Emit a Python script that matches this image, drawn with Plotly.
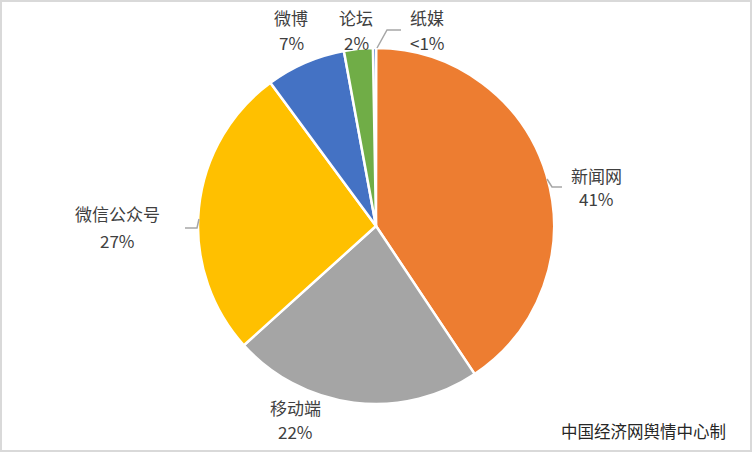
import plotly.graph_objects as go

# ---- data ----
categories = ["纸媒", "新闻网", "移动端", "微信公众号", "微博", "论坛"]
values = [0.3, 40.5, 22.6, 26.5, 7.2, 2.6]
pct_labels = ["<1%", "41%", "22%", "27%", "7%", "2%"]
colors = ["#4472C4", "#ED7D31", "#A5A5A5", "#FFC000", "#4472C4", "#70AD47"]
source_note = "中国经济网舆情中心制"

# ---- layout helpers (pixels) ----
W, H = 752, 452
CX, CY, R = 376, 226, 178
# label positions (px): x centre, y of category line, y of percent line
label_pos = [(427, 17, 42), (596, 175, 199), (295, 407, 431), (117, 214, 240), (291, 17, 42), (356, 17, 42)]
# leader line paths (px)
leaders = {
    "纸媒": [(377, 48), (387, 30), (401, 30)],
    "新闻网": [(547, 179), (552, 187), (562, 187)],
    "微信公众号": [(199, 219), (197, 228), (185, 228)],
}

FONT = "Microsoft YaHei, Noto Sans CJK SC, sans-serif"


def px(x, y):
    return x / W, 1 - y / H


fig = go.Figure()
fig.add_trace(go.Pie(
    labels=categories,
    values=values,
    sort=False,
    direction="clockwise",
    rotation=-1,
    textinfo="none",
    hoverinfo="label+percent",
    marker=dict(colors=colors, line=dict(color="white", width=2.5)),
    domain=dict(x=[(CX - R) / W, (CX + R) / W], y=[(H - CY - R) / H, (H - CY + R) / H]),
))

annotations = []
for cat, pct, (lx, ly1, ly2) in zip(categories, pct_labels, label_pos):
    for txt, ly in ((cat, ly1), (pct, ly2)):
        ax, ay = px(lx, ly)
        annotations.append(dict(
            x=ax, y=ay, xref="paper", yref="paper", showarrow=False,
            text=txt, align="center",
            font=dict(family=FONT, size=17, color="#404040"),
            xanchor="center", yanchor="middle",
        ))
nx, ny = px(728, 431)
annotations.append(dict(
    x=nx, y=ny, xref="paper", yref="paper", showarrow=False,
    text=source_note, xanchor="right", yanchor="middle",
    font=dict(family=FONT, size=16.5, color="#262626"),
))

shapes = []
for cat, pts in leaders.items():
    path = ""
    for i, (x, y) in enumerate(pts):
        X, Y = px(x, y)
        path += ("M" if i == 0 else "L") + f"{X},{Y} "
    shapes.append(dict(type="path", path=path.strip(), xref="paper", yref="paper",
                       line=dict(color="#A6A6A6", width=1.5)))
# chart border
shapes.append(dict(type="rect", xref="paper", yref="paper", x0=0, y0=0, x1=1, y1=1,
                   line=dict(color="#D9D9D9", width=4)))

fig.update_layout(
    width=W, height=H,
    margin=dict(l=0, r=0, t=0, b=0),
    paper_bgcolor="white",
    plot_bgcolor="white",
    showlegend=False,
    annotations=annotations,
    shapes=shapes,
)

fig.write_html("out.html", config={"displayModeBar": False},
               post_script="document.body.style.margin='0';document.body.style.overflow='hidden';")
